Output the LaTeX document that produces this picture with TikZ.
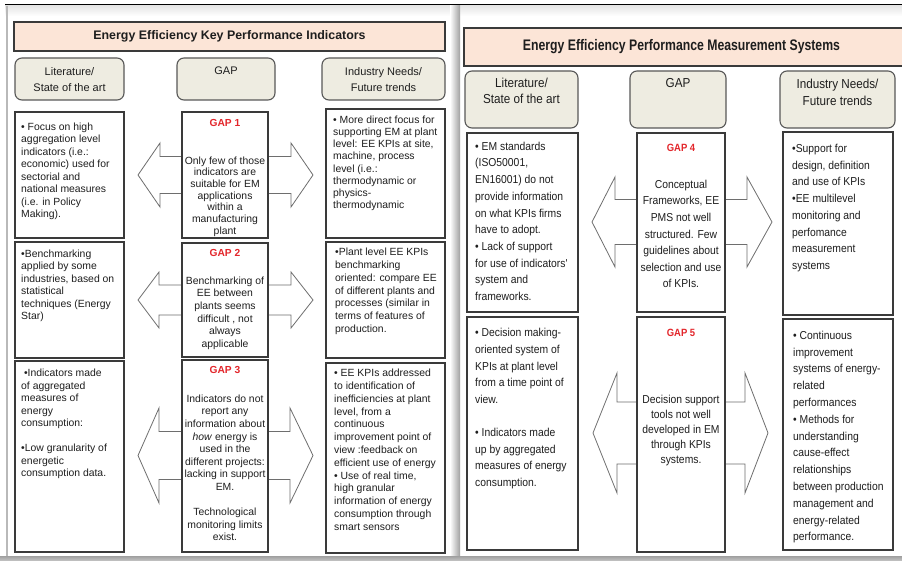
\documentclass[tikz,border=0pt]{standalone}
\usepackage{fontspec}
\setmainfont{Liberation Sans}
\newfontfamily\pmsfont[FakeStretch=0.9]{Liberation Sans}
\newfontfamily\pmstitlefont[FakeStretch=0.8]{Liberation Sans}

\definecolor{titlefill}{HTML}{FCE5D7}
\definecolor{headfill}{HTML}{EEECE1}
\definecolor{boxline}{HTML}{3A3A3A}
\definecolor{arrowline}{HTML}{6E6E6E}
\definecolor{gapred}{HTML}{E3262B}
\definecolor{bodytext}{HTML}{1E1E1E}

\tikzset{
  titlebox/.style={draw=boxline, line width=1.1pt, fill=titlefill},
  headbox/.style={draw=boxline!85, line width=1.1pt, fill=headfill, rounded corners=7pt},
  cellbox/.style={draw=boxline, line width=1.2pt, fill=white},
  gaparrow/.style={draw=arrowline, line width=0.8pt, fill=white, line join=miter},
  kpitext/.style={inner sep=0pt, text=bodytext, font=\fontsize{10.4}{#1}\selectfont},
  kpitext/.default=12.5,
  pmstext/.style={inner sep=0pt, text=bodytext, font=\pmsfont\fontsize{11.5}{#1}\selectfont},
  pmstext/.default=16.7,
  kpihead/.style={inner sep=0pt, text=bodytext, align=center, font=\fontsize{11}{15.6}\selectfont},
  pmshead/.style={inner sep=0pt, text=bodytext, align=center, font=\pmsfont\fontsize{13}{16.3}\selectfont},
  kpigap/.style={inner sep=0pt, text=gapred, font=\bfseries\fontsize{10.2}{12}\selectfont},
  pmsgap/.style={inner sep=0pt, text=gapred, font=\pmsfont\bfseries\fontsize{10.5}{12}\selectfont},
}

\begin{document}
\begin{tikzpicture}[x=1pt,y=-1pt]
  \useasboundingbox (0,0) rectangle (902,561);
  \fill[white] (0,0) rectangle (902,561);%

  % Page frame, shadows between the two slides
  \shade[top color=gray!20, bottom color=white] (5,6) rectangle (902,16);%
  \draw[line width=1pt] (5,5) -- (902,5);%
  \draw[gray!55, line width=1.4pt] (7,6) -- (7,556);%
  \shade[left color=white, right color=gray!75] (450,6) rectangle (460,556);%
  \shade[top color=gray!75, bottom color=gray!45] (0,556) rectangle (902,561);%

  % ---------------- Left slide: EE KPIs ----------------
  % Drawing title
  \draw[titlebox] (14,22) rectangle (445,51);%
  \node[inner sep=0pt, font=\bfseries\fontsize{12.4}{14}\selectfont, text=bodytext] (kpititle) at (229.5,36.7) {Energy Efficiency Key Performance Indicators};%

  % Drawing column heads
  \draw[headbox] (15,58) rectangle (124,100);%
  \node[kpihead, anchor=north] (kpilithead) at (69.5,67.6) {Literature/\\State of the art};%
  \draw[headbox] (177,58) rectangle (275,100);%
  \node[kpihead, anchor=north] (kpigaphead) at (226,66.9) {GAP};%
  \draw[headbox] (322,58) rectangle (445,100);%
  \node[kpihead, anchor=north] (kpiindhead) at (383.5,67.6) {Industry Needs/\\Future trends};%

  % Drawing double arrows behind the gap boxes
  \draw[gaparrow] (138,175) -- (160,143) -- (160,156.5) -- (291,156.5) -- (291,143) -- (313,175) -- (291,207) -- (291,193.5) -- (160,193.5) -- (160,207) -- cycle;%
  \draw[gaparrow] (138,300) -- (159,272) -- (159,285) -- (291,285) -- (291,272) -- (313,300) -- (291,328) -- (291,315) -- (159,315) -- (159,328) -- cycle;%
  \draw[gaparrow] (138,455.5) -- (159,408) -- (159,431.5) -- (290,431.5) -- (290,408) -- (313,455.5) -- (290,503) -- (290,479.5) -- (159,479.5) -- (159,503) -- cycle;%

  % Row 1
  \draw[cellbox] (15,112) rectangle (124,238);%
  \draw[cellbox] (182,112) rectangle (268,238);%
  \draw[cellbox] (326,109) rectangle (445,238);%
  \node[kpitext, align=left, anchor=north west] (lit1) at (21,122.3) {• Focus on high\\aggregation level\\indicators (i.e.:\\economic) used for\\sectorial and\\national measures\\(i.e. in Policy\\Making).};%
  \node[kpigap] (gap1) at (225,123.3) {GAP 1};%
  \node[kpitext=11.7, align=center, anchor=north] (gap1txt) at (225,156.3) {Only few of those\\indicators are\\suitable for EM\\applications\\within a\\manufacturing\\plant};%
  \node[kpitext=12.2, align=left, anchor=north west] (ind1) at (333,115.5) {• More direct focus for\\supporting EM at plant\\level: EE KPIs at site,\\machine, process\\level (i.e.:\\thermodynamic or\\physics-\\thermodynamic};%

  % Row 2
  \draw[cellbox] (15,242) rectangle (124,358);%
  \draw[cellbox] (182,243) rectangle (268,357);%
  \draw[cellbox] (326,242) rectangle (445,358);%
  \node[kpitext, align=left, anchor=north west] (lit2) at (21,249.5) {•Benchmarking\\applied by some\\industries, based on\\statistical\\techniques (Energy\\Star)};%
  \node[kpigap] (gap2) at (225,253.3) {GAP 2};%
  \node[kpitext=12.7, align=center, anchor=north] (gap2txt) at (225,276.3) {Benchmarking of\\EE between\\plants seems\\difficult , not\\always\\applicable};%
  \node[kpitext=12.8, align=left, anchor=north west] (ind2) at (335,248) {•Plant level EE KPIs\\benchmarking\\oriented: compare EE\\of different plants and\\processes (similar in\\terms of features of\\production.};%

  % Row 3
  \draw[cellbox] (15,361) rectangle (124,552);%
  \draw[cellbox] (182,360) rectangle (268,552);%
  \draw[cellbox] (326,363) rectangle (445,553);%
  \node[kpitext, align=left, anchor=north west] (lit3) at (21,369) {\ •Indicators made\\of aggregated\\measures of\\energy\\consumption:\\[12.5pt]•Low granularity of\\energetic\\consumption data.};%
  \node[kpigap] (gap3) at (225,370) {GAP 3};%
  \node[kpitext=12.6, align=center, anchor=north] (gap3txt) at (225,394.5) {Indicators do not\\report any\\information about\\\textit{how} energy is\\used in the\\different projects:\\lacking in support\\EM.\\[12.6pt]Technological\\monitoring limits\\exist.};%
  \node[kpitext=12.8, align=left, anchor=north west] (ind3) at (334,369) {• EE KPIs addressed\\to identification of\\inefficiencies at plant\\level, from a\\continuous\\improvement point of\\view :feedback on\\efficient use of energy\\• Use of real time,\\high granular\\information of energy\\consumption through\\smart sensors};%

  % ---------------- Right slide: EE PMS ----------------
  % Drawing title
  \draw[titlebox] (464,28) rectangle (906,66);%
  \node[inner sep=0pt, font=\pmstitlefont\bfseries\fontsize{15.3}{17}\selectfont, text=bodytext] (pmstitle) at (681.5,46.7) {Energy Efficiency Performance Measurement Systems};%

  % Drawing column heads
  \draw[headbox] (465,71) rectangle (578,128);%
  \node[pmshead, anchor=north] (pmslithead) at (521.5,77.8) {Literature/\\State of the art};%
  \draw[headbox] (630,71) rectangle (726,128);%
  \node[pmshead, anchor=north] (pmsgaphead) at (678,78.4) {GAP};%
  \draw[headbox] (780,71) rectangle (895,128);%
  \node[pmshead, anchor=north] (pmsindhead) at (837.5,79.1) {Industry Needs/\\Future trends};%

  % Drawing double arrows behind the gap boxes
  \draw[gaparrow] (592,222) -- (615,177) -- (615,199.5) -- (747,199.5) -- (747,177) -- (772,222) -- (747,267) -- (747,244.5) -- (615,244.5) -- (615,267) -- cycle;%
  \draw[gaparrow] (593,433) -- (617,373) -- (617,402) -- (745,402) -- (745,373) -- (768,433) -- (745,493) -- (745,464) -- (617,464) -- (617,493) -- cycle;%

  % Row 4
  \draw[cellbox] (467,133) rectangle (578,312);%
  \draw[cellbox] (637,133) rectangle (725,312);%
  \draw[cellbox] (783,132) rectangle (893,315);%
  \node[pmstext, align=left, anchor=north west] (lit4) at (475,141.7) {• EM standards\\(ISO50001,\\EN16001) do not\\provide information\\on what KPIs firms\\have to adopt.\\• Lack of support\\for use of indicators'\\system and\\frameworks.};%
  \node[pmsgap] (gap4) at (681,148.3) {GAP 4};%
  \node[pmstext=16.6, align=center, anchor=north] (gap4txt) at (681,179.7) {Conceptual\\Frameworks, EE\\PMS not well\\structured. Few\\guidelines about\\selection and use\\of KPIs.};%
  \node[pmstext, align=left, anchor=north west] (ind4) at (792,144) {•Support for\\design, definition\\and use of KPIs\\•EE multilevel\\monitoring and\\perfomance\\measurement\\systems};%

  % Row 5
  \draw[cellbox] (467,317) rectangle (578,550);%
  \draw[cellbox] (637,317) rectangle (725,552);%
  \draw[cellbox] (783,319) rectangle (893,550);%
  \node[pmstext=16.6, align=left, anchor=north west] (lit5) at (475,328.4) {• Decision making-\\oriented system of\\KPIs at plant level\\from a time point of\\view.\\[16.6pt]• Indicators made\\up by aggregated\\measures of energy\\consumption.};%
  \node[pmsgap] (gap5) at (681,332.7) {GAP 5};%
  \node[pmstext=15, align=center, anchor=north] (gap5txt) at (681,395) {Decision support\\tools not well\\developed in EM\\through KPIs\\systems.};%
  \node[pmstext=16.8, align=left, anchor=north west] (ind5) at (793,330.7) {• Continuous\\improvement\\systems of energy-\\related\\performances\\• Methods for\\understanding\\cause-effect\\relationships\\between production\\management and\\energy-related\\performance.};%
\end{tikzpicture}
\end{document}
